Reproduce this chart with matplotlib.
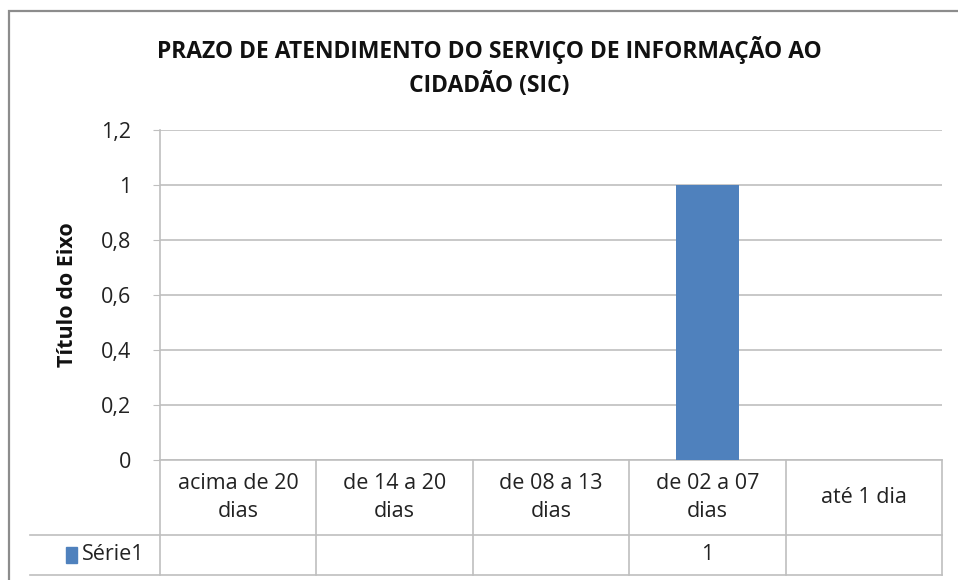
import matplotlib.pyplot as plt
from matplotlib.patches import Rectangle
from matplotlib.lines import Line2D

# Dados do gráfico
categorias = ['acima de 20\ndias', 'de 14 a 20\ndias', 'de 08 a 13\ndias', 'de 02 a 07\ndias', 'até 1 dia']
valores = [0, 0, 0, 1, 0]
tabela_valores = ['', '', '', '1', '']
serie = 'Série1'
yticks = [0, 0.2, 0.4, 0.6, 0.8, 1.0, 1.2]
ytick_labels = ['0', '0,2', '0,4', '0,6', '0,8', '1', '1,2']
titulo = 'PRAZO DE ATENDIMENTO DO SERVIÇO DE INFORMAÇÃO AO\nCIDADÃO (SIC)'

plt.rcParams['font.family'] = ['Open Sans', 'DejaVu Sans']
cor_barra = '#4F81BD'
cinza = '#BFBFBF'
cor_texto = '#222222'
fs = 15.5

W, H = 958, 580
fig = plt.figure(figsize=(W / 100, H / 100), dpi=100)

# Borda externa do gráfico
fig.add_artist(Rectangle((9 / W, -0.1), 1.2, (H - 11) / H + 0.1, transform=fig.transFigure,
                         fill=False, edgecolor='#8C8C8C', lw=1.6))

# Área de plotagem
x0, x1, y0, y1 = 160, 942, 460, 130
ax = fig.add_axes([x0 / W, 1 - y0 / H, (x1 - x0) / W, (y0 - y1) / H])
pos = list(range(len(categorias)))
ax.bar(pos, valores, width=0.4, color=cor_barra, zorder=3)
ax.set_xlim(-0.5, len(categorias) - 0.5)
ax.set_ylim(0, 1.2)
ax.set_yticks(yticks)
ax.set_yticklabels(ytick_labels, fontsize=fs, color=cor_texto)
ax.tick_params(axis='y', length=5, color=cinza, pad=16)
ax.set_xticks([])
ax.grid(axis='y', color=cinza, lw=1.2, zorder=0)
for s in ['top', 'right']:
    ax.spines[s].set_visible(False)
ax.spines['left'].set_color(cinza)
ax.spines['left'].set_linewidth(1.2)
ax.spines['bottom'].set_color(cinza)
ax.spines['bottom'].set_linewidth(1.2)
ax.set_ylabel('Título do Eixo', fontsize=fs, fontweight='bold', labelpad=16, color='#111111')

fig.text(489 / W, 1 - 67 / H, titulo, ha='center', va='center', fontsize=16.5,
         fontweight='bold', linespacing=1.45, color='#111111')

# Tabela de dados abaixo do eixo
altura = y0 - y1
r1 = -(535 - y0) / altura
r2 = -(575 - y0) / altura
tr = ax.get_xaxis_transform()
for i in range(len(categorias) + 1):
    xv = i - 0.5
    ax.add_line(Line2D([xv, xv], [0, r2], transform=tr, color=cinza, lw=1.2, clip_on=False))
xl = -0.5 - (x0 - 30) / ((x1 - x0) / len(categorias))
for yv in [r1, r2]:
    ax.add_line(Line2D([xl, len(categorias) - 0.5], [yv, yv], transform=tr, color=cinza,
                       lw=1.2, clip_on=False))
for i, cat in enumerate(categorias):
    ax.text(i, r1 / 2, cat, transform=tr, ha='center', va='center', fontsize=fs,
            color=cor_texto, linespacing=1.45)
    ax.text(i, (r1 + r2) / 2, tabela_valores[i], transform=tr, ha='center', va='center',
            fontsize=fs, color=cor_texto)

# Legenda na tabela
ax.add_patch(Rectangle((xl + 0.23, (r1 + r2) / 2 - 0.025), 0.07, 0.05, transform=tr,
                       color=cor_barra, clip_on=False))
ax.text(xl + 0.33, (r1 + r2) / 2, serie, transform=tr, ha='left', va='center',
        fontsize=fs, color=cor_texto)

plt.savefig('out.png', dpi=100)
